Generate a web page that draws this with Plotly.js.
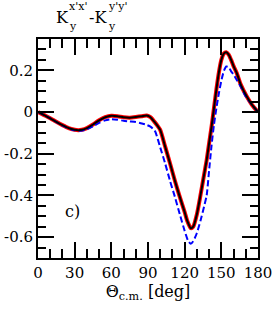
<!DOCTYPE html>
<html>
<head>
<meta charset="utf-8">
<script src="https://cdn.plot.ly/plotly-3.0.1.min.js"></script>
<style>html,body{margin:0;padding:0;background:#fff;}#chart{width:274px;height:310px;}</style>
</head>
<body>
<div id="chart"></div>
<script>
// Full calculation (black) with red band, and dashed blue calculation
const thetaFull = [0, 5, 10, 15, 20, 25, 30, 33, 36, 40, 45, 50, 55, 60, 65, 70, 75, 80, 85, 89, 92, 95, 98, 100, 104, 108, 112, 116, 120, 122, 125, 127, 130, 132.7, 135, 138, 140, 142, 144, 146, 148, 150, 152, 154, 156, 158, 160, 162.6, 166, 170.8, 175, 180];
const kFull = [0, -0.015, -0.03, -0.047, -0.063, -0.077, -0.085, -0.087, -0.085, -0.077, -0.06, -0.04, -0.025, -0.018, -0.02, -0.025, -0.027, -0.024, -0.02, -0.017, -0.025, -0.045, -0.068, -0.086, -0.165, -0.246, -0.33, -0.407, -0.48, -0.52, -0.557, -0.55, -0.49, -0.407, -0.33, -0.23, -0.15, -0.07, 0.02, 0.11, 0.19, 0.25, 0.28, 0.287, 0.275, 0.25, 0.22, 0.187, 0.13, 0.074, 0.035, 0];

const thetaDash = [0, 10, 20, 30, 35, 40, 45, 50, 55, 60, 65, 70, 75, 80, 84, 88, 92, 94, 96, 98, 100, 104, 108, 112, 116, 120, 123, 125, 127, 130, 133, 136, 138, 140, 142, 144, 146, 148, 150, 152, 154, 156, 158, 160, 163, 166, 170, 175, 180];
const kDash = [0, -0.03, -0.065, -0.088, -0.09, -0.083, -0.068, -0.052, -0.04, -0.035, -0.037, -0.042, -0.045, -0.048, -0.054, -0.06, -0.07, -0.08, -0.095, -0.13, -0.17, -0.246, -0.33, -0.407, -0.49, -0.57, -0.62, -0.632, -0.62, -0.58, -0.52, -0.45, -0.4, -0.28, -0.16, -0.06, 0.02, 0.09, 0.15, 0.195, 0.218, 0.215, 0.195, 0.18, 0.15, 0.12, 0.074, 0.035, 0];

const xTickVals = [0, 30, 60, 90, 120, 150, 180];
const yTickVals = [-0.6, -0.4, -0.2, 0, 0.2];
const yTickText = ['-0.6', '-0.4', '-0.2', '0', '0.2'];
const xRange = [0, 180];
const yRange = [-0.7, 0.35];

const serif = 'DejaVu Serif';

const traces = [
  {x: thetaFull, y: kFull, mode: 'lines', line: {color: 'rgb(255,0,0)', width: 4, shape: 'spline', smoothing: 0.6}, hoverinfo: 'skip'},
  {x: thetaDash, y: kDash, mode: 'lines', line: {color: 'rgb(0,0,255)', width: 2, dash: '6px,3px', shape: 'spline', smoothing: 0.6}},
  {x: thetaFull, y: kFull, mode: 'lines', line: {color: 'black', width: 2, shape: 'spline', smoothing: 0.6}},
  {x: xRange, y: yRange, xaxis: 'x2', yaxis: 'y2', mode: 'markers', marker: {opacity: 0}, hoverinfo: 'skip'}
];

const axisCommon = {
  showgrid: false, zeroline: false, showline: true, linecolor: 'black', linewidth: 2,
  ticks: 'inside', ticklen: 16, tickwidth: 2, tickcolor: 'black',
  tickfont: {family: serif, size: 15, color: 'black'}
};
const xMinor = {dtick: 10, tick0: 0, ticks: 'inside', ticklen: 9, tickwidth: 2, tickcolor: 'black'};
const yMinor = {dtick: 0.05, tick0: 0, ticks: 'inside', ticklen: 8, tickwidth: 2, tickcolor: 'black'};

const layout = {
  width: 274, height: 310,
  margin: {l: 38, r: 16, t: 39, b: 52},
  paper_bgcolor: 'white', plot_bgcolor: 'white',
  showlegend: false,
  font: {family: serif},
  xaxis: Object.assign({}, axisCommon, {
    range: xRange, tickvals: xTickVals, minor: xMinor,
    title: {text: 'Θ<sub>c.m.</sub> [deg]', font: {family: serif, size: 16, color: 'black'}, standoff: 4}
  }),
  yaxis: Object.assign({}, axisCommon, {
    range: yRange, tickvals: yTickVals, ticktext: yTickText, minor: yMinor
  }),
  xaxis2: Object.assign({}, axisCommon, {
    overlaying: 'x', side: 'top', anchor: 'y2', range: xRange, tickvals: xTickVals, minor: xMinor, showticklabels: false
  }),
  yaxis2: Object.assign({}, axisCommon, {
    overlaying: 'y', side: 'right', anchor: 'x2', range: yRange, tickvals: yTickVals, minor: yMinor, showticklabels: false
  }),
  annotations: [
    {xref: 'paper', yref: 'paper', x: 0.072, y: 1.098, xanchor: 'left', yanchor: 'middle', showarrow: false, text: 'K', font: {family: serif, size: 16, color: 'black'}},
    {xref: 'paper', yref: 'paper', x: 0.13, y: 1.15, xanchor: 'left', yanchor: 'middle', showarrow: false, text: "x'x'", font: {family: serif, size: 11, color: 'black'}},
    {xref: 'paper', yref: 'paper', x: 0.13, y: 1.055, xanchor: 'left', yanchor: 'middle', showarrow: false, text: 'y', font: {family: serif, size: 11, color: 'black'}},
    {xref: 'paper', yref: 'paper', x: 0.222, y: 1.098, xanchor: 'left', yanchor: 'middle', showarrow: false, text: '-K', font: {family: serif, size: 16, color: 'black'}},
    {xref: 'paper', yref: 'paper', x: 0.308, y: 1.15, xanchor: 'left', yanchor: 'middle', showarrow: false, text: "y'y'", font: {family: serif, size: 11, color: 'black'}},
    {xref: 'paper', yref: 'paper', x: 0.308, y: 1.055, xanchor: 'left', yanchor: 'middle', showarrow: false, text: 'y', font: {family: serif, size: 11, color: 'black'}},
    {xref: 'paper', yref: 'paper', x: 0.112, y: 0.212, xanchor: 'left', yanchor: 'middle', showarrow: false, text: 'c)', font: {family: serif, size: 16, color: 'black'}}
  ]
};

Plotly.newPlot('chart', traces, layout, {staticPlot: true, displayModeBar: false});
</script>
</body>
</html>
